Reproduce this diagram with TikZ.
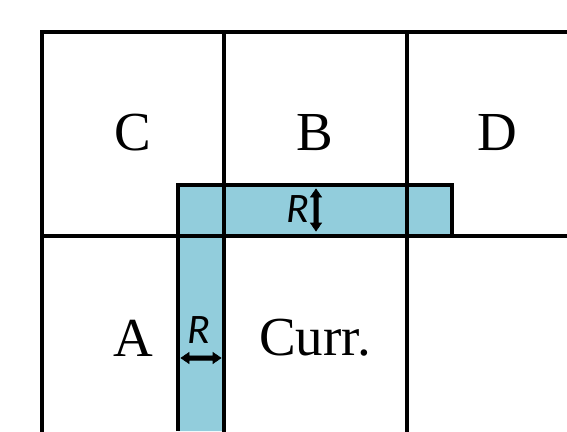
\documentclass[tikz,border=0pt]{standalone}
\usepackage{fontspec}
\setmainfont{Liberation Serif}
\newfontfamily\rfont{Carlito}
\usetikzlibrary{calc}
\definecolor{cBand}{HTML}{92CDDC}

\begin{document}
\begin{tikzpicture}[x=1pt,y=-1pt,
  grid/.style={line width=4pt,line cap=rect},
  band/.style={fill=cBand,draw=black,line width=4pt},
  cell/.style={font=\fontsize{55}{60}\selectfont,inner sep=0pt},
  rlab/.style={font=\rfont\itshape\fontsize{42}{46}\selectfont,inner sep=0pt},
  rarr/.style={fill=black,draw=black,line width=0.6pt,line join=miter}]

  \useasboundingbox (0,0) rectangle (567,431);

  % search band
  \filldraw[band] (178,431) -- (178,185) -- (452,185) -- (452,236) -- (224,236) -- (224,431);

  % cells
  \draw[grid] (42,431) -- (42,32) -- (567,32);
  \draw[grid] (42,236) -- (567,236);
  \draw[grid] (224,32) -- (224,431);
  \draw[grid] (407,32) -- (407,431);

  \node[cell] (c) at (133,133) {C};
  \node[cell] (b) at (315,133) {B};
  \node[cell] (d) at (497,133) {D};
  \node[cell] (a) at (133,338) {A};
  \node[cell] (curr) at (315,338) {Curr.};

  % radius markers
  \node[rlab] (rb) at (298,209) {R};
  \coordinate (rbt) at (316,189);
  \coordinate (rbb) at (316,231);
  \filldraw[rarr] (rbt) -- ($(rbt)+(5.5,8)$) -- ($(rbt)+(2.2,8)$) -- ($(rbb)+(2.2,-8)$)
    -- ($(rbb)+(5.5,-8)$) -- (rbb) -- ($(rbb)+(-5.5,-8)$) -- ($(rbb)+(-2.2,-8)$)
    -- ($(rbt)+(-2.2,8)$) -- ($(rbt)+(-5.5,8)$) -- cycle;

  \node[rlab] (ra) at (199,330) {R};
  \coordinate (ral) at (181,358);
  \coordinate (rar) at (221,358);
  \filldraw[rarr] (ral) -- ($(ral)+(8,-5.5)$) -- ($(ral)+(8,-2.2)$) -- ($(rar)+(-8,-2.2)$)
    -- ($(rar)+(-8,-5.5)$) -- (rar) -- ($(rar)+(-8,5.5)$) -- ($(rar)+(-8,2.2)$)
    -- ($(ral)+(8,2.2)$) -- ($(ral)+(8,5.5)$) -- cycle;
\end{tikzpicture}
\end{document}
